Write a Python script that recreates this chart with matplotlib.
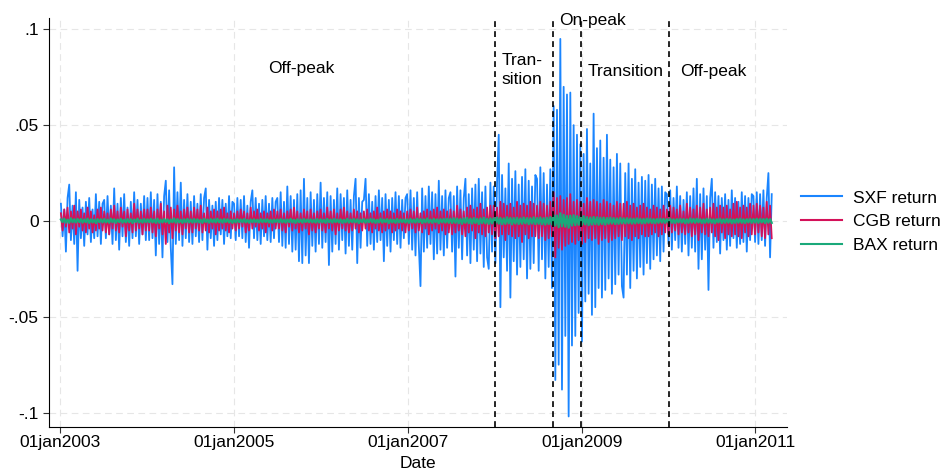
import numpy as np
import pandas as pd
import matplotlib
matplotlib.use('Agg')
import matplotlib.pyplot as plt
import matplotlib.dates as mdates
from matplotlib.ticker import FuncFormatter

plt.rcParams['font.family'] = ['Liberation Sans', 'DejaVu Sans']

# ----------------------------- data (weekly)

# SXF return, in thousandths, one row per half-year (2003H1 ... 2010H2, 2011Q1)
sxf_milli = [
    9, -8, 6, -16, 12, 19, -10, 8, -12, 15, -26, 11, -9, 7, -13, 10, -7, 12, -11, 6, -9, 14, -8, 10, -12, 9,
    11, -9, 13, -7, 8, -12, 17, -10, 9, -15, 12, -8, 14, -11, 7, -13, 10, -9, 15, -8, 11, -12, 9, -7, 13, -10,
    12, -10, 15, -9, 11, -18, 14, -12, 10, -19, 13, 21, -11, 16, -14, -33, 28, -12, 15, -10, 20, -13, 11, -9, 14, -11,
    10, -12, 13, -8, 9, -11, 14, -10, 12, 17, -15, 11, -9, 8, -13, 10, -10, 12, -7, 11, -12, 9, -8, 13, -9, 10,
    9, -10, 12, -8, 11, -9, 13, -11, 8, -14, 10, 16, -9, 12, -10, 9, -12, 11, -8, 13, -10, 9, -11, 12, -9, 10,
    12, -11, 15, -13, 10, -14, 18, -12, 13, -16, 11, -15, 14, -21, 16, -22, 22, -18, 12, -22, 15, -13, 11, -16, 14, -12,
    20, -14, 12, -11, 15, -23, 13, -16, 11, -12, 17, -15, 14, -10, 12, -17, 16, -13, 11, -15, 13, 22, -22, 12, -14, 10,
    11, 22, -13, 14, -12, 10, -15, 13, -11, 16, -10, 12, -21, 14, -13, 11, -16, 12, -10, 15, -12, 13, -14, 11, -9, 12,
    14, -12, 16, -15, 12, -18, 15, -13, -34, 17, -16, 13, -14, 18, -12, 15, -20, 14, -17, 21, -15, 13, -18, 16, -14, 12,
    15, -16, 13, -29, 18, -14, 16, -20, 12, 22, -18, 14, -22, 17, -15, 19, -21, 22, -17, 15, -24, 18, -19, -25, 20, -16,
    18, -22, 20, 45, -45, 24, -19, 17, -26, 30, -40, 22, -21, 26, -28, 19, -24, 23, -20, 27, -30, 21, -25, 18, -22, 24,
    22, -26, 28, -20, 25, -30, 19, -24, 27, -35, 60, -83, 58, -75, 95, -88, 70, -60, 66, -102, 67, -65, 50, -60, 45, -48,
    40, -63, 35, -42, 48, -38, 30, -49, 56, -45, 38, -35, 42, -40, 33, -36, 45, -30, 32, -38, 28, -33, 35, -28, 30, -34,
    -40, 25, -28, 30, -35, 22, -26, 27, -30, 20, -24, 23, -28, 21, -22, 24, -25, 19, -20, 22, -18, 17, -21, 18, -16, 15,
    14, -12, 16, -15, 12, -10, 18, -14, 13, -16, 11, -12, 15, -18, 13, -14, 17, -16, 22, -25, 14, -20, 17, -15, 13, -36,
    12, 22, -14, 15, -11, 13, -17, 12, -10, 14, -15, 11, -13, 16, -9, 12, -14, 10, -12, 15, -11, 13, -16, 12, -10, 14,
    13, -11, 15, -12, 14, -10, 16, -13, 12, 25, -19, 14,
]

# CGB return, in thousandths
cgb_milli = [
    4, -5, 6, -3, 7, -6, 5, -4, 8, -7, 5, -3, 6, -5, 4, -6, 7, -4, 5, -6, 3, -5, 6, -4, 7, -5,
    5, -6, 4, -7, 6, -4, 8, -5, 5, -6, 7, -3, 5, -8, 6, -5, 4, -6, 9, -5, 6, -4, 5, -7, 6, -5,
    6, -5, 7, -6, 5, -8, 6, -4, 9, -7, 5, -12, 8, -6, 7, -9, 6, -5, 8, -6, 5, -7, 6, -4, 7, -6,
    5, -6, 7, -4, 6, -5, 8, -6, 4, -5, 7, -6, 5, -4, 6, -7, 5, -5, 6, -4, 7, -5, 4, -6, 5, -4,
    4, -5, 5, -4, 6, -3, 5, -6, 4, -5, 7, -4, 5, -3, 6, -5, 4, -4, 5, -6, 4, -3, 5, -5, 6, -4,
    5, -4, 6, -5, 4, -6, 5, -3, 6, -5, 7, -4, 5, -6, 4, -5, 6, -4, 5, -7, 6, -5, 4, -6, 5, -4,
    6, -5, 4, -6, 7, -4, 5, -5, 6, -7, 4, -5, 6, -4, 7, -5, 5, -6, 4, -5, 6, -4, 5, -6, 4, -5,
    5, -4, 6, -5, 4, -6, 5, -4, 7, -5, 4, -6, 5, -5, 6, -4, 5, -6, 4, -5, 6, -4, 5, -5, 4, -6,
    5, -5, 6, -4, 5, -6, 7, -5, 4, -6, 5, -4, 6, -7, 5, -5, 6, -4, 7, -6, 5, -5, 6, -7, 5, -6,
    6, -7, 5, -6, 8, -5, 6, -7, 5, -8, 7, -6, 8, -5, 6, -9, 7, -6, 9, -7, 6, -8, 7, -6, 8, -7,
    8, -9, 7, -8, 10, -7, 9, -10, 8, -7, 9, -8, 7, -9, 10, -8, 8, -11, 9, -7, 8, -9, 10, -8, 9, -8,
    8, -9, 10, -8, 9, -10, 8, -9, 10, -8, 15, -19, 12, -14, 13, -15, 11, -13, 12, -12, 14, -11, 10, -12, 11, -10,
    10, -12, 9, -11, 12, -9, 10, -10, 11, -9, 10, -12, 9, -10, 11, -9, 10, -11, 9, -10, 8, -9, 10, -8, 9, -10,
    9, -8, 10, -9, 8, -10, 9, -8, 7, -9, 8, -7, 9, -8, 7, -8, 6, -7, 8, -6, 7, -8, 6, -7, 8, -6,
    6, -7, 8, -6, 7, -5, 6, -7, 8, -6, 5, -7, 9, -6, 7, -8, 6, -7, 8, -10, 7, -6, 9, -7, 6, -8,
    7, -6, 9, -8, 7, -10, 8, -6, 7, -9, 8, -7, 6, -8, 9, -7, 10, -8, 7, -9, 8, -6, 7, -8, 9, -7,
    8, -7, 9, -6, 8, -8, 7, -9, 10, -7, 8, -9,
]

# BAX return, in ten-thousandths
bax_tenth_milli = [
    8, -6, 12, -9, 7, -10, 14, -7, 9, -8, 11, -6, 10, -9, 8, -7, 12, -10, 9, -8, 7, -11, 10, -6, 9, -8,
    10, -8, 7, -9, 12, -7, 9, -10, 8, -6, 11, -9, 7, -8, 10, -7, 9, -11, 8, -6, 12, -8, 7, -9, 10, -7,
    9, -7, 11, -8, 8, -10, 12, -9, 7, -8, 10, -6, 9, -11, 8, -7, 13, -9, 10, -8, 7, -10, 9, -7, 11, -8,
    8, -9, 10, -7, 9, -8, 7, -10, 11, -6, 8, -9, 10, -7, 9, -8, 12, -7, 8, -9, 10, -6, 9, -8, 7, -10,
    7, -8, 9, -6, 8, -7, 10, -8, 6, -9, 8, -7, 9, -6, 7, -8, 10, -7, 8, -6, 9, -8, 7, -9, 8, -6,
    8, -7, 10, -8, 7, -9, 8, -6, 11, -8, 7, -10, 9, -7, 8, -9, 10, -6, 8, -7, 9, -8, 7, -9, 10, -8,
    9, -8, 7, -10, 11, -7, 8, -9, 10, -7, 8, -8, 9, -10, 7, -8, 11, -9, 8, -7, 10, -8, 9, -11, 8, -7,
    10, -9, 8, -7, 11, -8, 9, -10, 7, -8, 12, -9, 8, -7, 10, -11, 9, -8, 7, -10, 11, -8, 9, -7, 8, -9,
    9, -10, 11, -8, 8, -9, 12, -7, 10, -11, 9, -8, 13, -9, 8, -10, 11, -7, 9, -12, 10, -8, 11, -9, 12, -10,
    12, -11, 14, -10, 13, -12, 11, -15, 14, -10, 16, -12, 13, -14, 15, -11, 12, -16, 14, -12, 17, -13, 12, -15, 14, -13,
    15, -13, 18, -14, 16, -17, 14, -15, 19, -13, 16, -18, 15, -14, 17, -16, 14, -15, 18, -13, 16, -17, 15, -14, 19, -16,
    16, -15, 18, -17, 15, -19, 17, -16, 20, -18, 30, -25, 28, -33, 40, -28, 32, -30, 26, -35, 28, -24, 30, -22, 25, -20,
    22, -20, 25, -18, 20, -22, 18, -19, 21, -17, 19, -20, 17, -16, 18, -19, 16, -15, 17, -14, 15, -16, 14, -15, 16, -13,
    14, -13, 15, -12, 13, -14, 12, -13, 14, -11, 12, -13, 11, -12, 13, -10, 12, -11, 10, -12, 11, -10, 12, -9, 11, -10,
    10, -9, 12, -10, 9, -11, 10, -8, 11, -9, 10, -12, 9, -10, 13, -9, 11, -10, 12, -8, 10, -11, 9, -10, 12, -9,
    11, -10, 9, -12, 10, -8, 12, -11, 9, -10, 11, -9, 10, -12, 8, -10, 11, -9, 12, -10, 9, -11, 10, -8, 11, -10,
    10, -9, 12, -10, 11, -8, 10, -11, 12, -9, 10, -10,
]

series_labels = ['SXF return', 'CGB return', 'BAX return']
series_colors = ['#1a85ff', '#d41159', '#1aa97a']
series_widths = [1.3, 1.3, 1.6]

# phase boundaries and phase names
phase_breaks = ['2008-01-01', '2008-09-01', '2008-12-31', '2010-01-01']
phase_names = ['Off-peak', 'Tran-\nsition', 'On-peak', 'Transition', 'Off-peak']

year_ticks = ['2003-01-01', '2005-01-01', '2007-01-01', '2009-01-01', '2011-01-01']
y_ticks = [-0.1, -0.05, 0, 0.05, 0.1]
y_tick_labels = ['-.1', '-.05', '0', '.05', '.1']

# ----------------------------- processing

dates = pd.date_range('2003-01-03', periods=len(sxf_milli), freq='W-FRI')
sxf = np.array(sxf_milli) / 1000
cgb = np.array(cgb_milli) / 1000
bax = np.array(bax_tenth_milli) / 10000

# ----------------------------- plotting

fs = 12.5

fig = plt.figure(figsize=(9.41, 4.74), dpi=100)
ax = fig.add_axes([0.0521, 0.0992, 0.7842, 0.8628])

for vals, lab, col, w in zip([sxf, cgb, bax], series_labels, series_colors, series_widths):
    ax.plot(dates, vals, color=col, lw=w, label=lab)

for d in phase_breaks:
    ax.axvline(pd.Timestamp(d), color='black', lw=1.2, ls=(0, (3.5, 2.5)), zorder=5)

# phase labels (positions in axes fraction)
label_pos = [(0.3415, 0.877), (0.641, 0.873), (0.7365, 0.9934), (0.782, 0.8704), (0.8997, 0.8704)]
for name, (px, py) in zip(phase_names, label_pos):
    ax.text(px, py, name, transform=ax.transAxes, ha='center', va='center',
            fontsize=fs, linespacing=1.3, clip_on=False)

ax.set_xlim(pd.Timestamp('2002-11-14'), pd.Timestamp('2011-05-14'))
ax.set_ylim(-0.1075, 0.1059)

ax.set_xticks(pd.to_datetime(year_ticks))
ax.xaxis.set_major_formatter(FuncFormatter(lambda x, pos: mdates.num2date(x).strftime('%d%b%Y').lower()))
ax.set_yticks(y_ticks)
ax.set_yticklabels(y_tick_labels)
ax.tick_params(axis='both', labelsize=fs, length=4.5, width=0.8, color='#333333')
ax.tick_params(axis='y', pad=3)
ax.tick_params(axis='x', pad=1.5)
ax.set_xlabel('Date', fontsize=fs, labelpad=4)

ax.grid(True, color='#e6e6e6', lw=0.8, ls=(0, (6, 4)))
ax.set_axisbelow(True)
for s in ['top', 'right']:
    ax.spines[s].set_visible(False)
for s in ['left', 'bottom']:
    ax.spines[s].set_linewidth(0.8)

leg = fig.legend(loc='center left', bbox_to_anchor=(0.851, 0.532), frameon=False, fontsize=fs,
                 handlelength=2.4, handletextpad=0.6, labelspacing=0.5, borderpad=0, borderaxespad=0)
for h in leg.get_lines():
    h.set_linewidth(1.5)

plt.savefig('out.png', dpi=100)
